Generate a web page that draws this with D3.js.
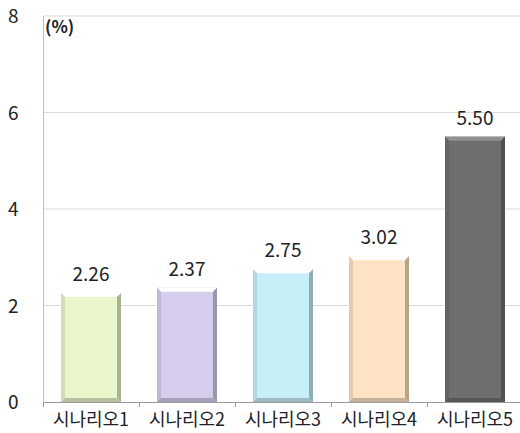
<!DOCTYPE html>
<html>
<head>
<meta charset="utf-8">
<script src="https://cdn.jsdelivr.net/npm/d3@7"></script>
<style>
  html, body { margin: 0; padding: 0; background: #fff; }
  svg { display: block; }
  text { font-family: "Noto Sans CJK KR", "Noto Sans", sans-serif; fill: #222; }
</style>
</head>
<body>
<svg id="chart" width="520" height="433"></svg>
<script>
// Scenario labels and their rates (%)
const categories = ["시나리오1", "시나리오2", "시나리오3", "시나리오4", "시나리오5"];
const values = [2.26, 2.37, 2.75, 3.02, 5.50];
const yTicks = [0, 2, 4, 6, 8];
const unitLabel = "(%)";
const barColors = ["#eaf6cb", "#d6cdec", "#c7eff8", "#fde2c3", "#6e6e6e"];

const svg = d3.select("#chart");
const x = d3.scaleBand().domain(categories).range([43, 523]).paddingInner(0.375).paddingOuter(0.1875);
const y = d3.scaleLinear().domain([0, 8]).range([402, 16]);

// Horizontal gridlines
svg.append("g").selectAll("line").data(yTicks.filter(d => d > 0)).join("line")
  .attr("x1", 43).attr("x2", 520)
  .attr("y1", d => y(d)).attr("y2", d => y(d))
  .attr("stroke", "#d9d9d9").attr("stroke-width", 1);

// Y axis line and tick labels
svg.append("line").attr("x1", 43.5).attr("x2", 43.5).attr("y1", y(8)).attr("y2", y(0))
  .attr("stroke", "#bfbfbf");
svg.append("g").selectAll("text").data(yTicks).join("text")
  .attr("x", 8).attr("y", d => y(d) + 7)
  .attr("font-size", 19)
  .text(d => d);

// X axis baseline and ticks between categories
svg.append("line").attr("x1", 43).attr("x2", 520).attr("y1", 402.5).attr("y2", 402.5)
  .attr("stroke", "#9a9a9a");
const bounds = d3.range(categories.length).map(i => 43 + i * x.step());
svg.append("g").selectAll("line").data(bounds).join("line")
  .attr("x1", d => d + 0.5).attr("x2", d => d + 0.5).attr("y1", 402).attr("y2", 407)
  .attr("stroke", "#9a9a9a");

svg.append("text").attr("x", 45).attr("y", 33).attr("font-size", 17).attr("font-weight", "bold")
  .text(unitLabel);

// Bevelled bars
const bev = 4;
const bars = svg.append("g").selectAll("g").data(values).join("g");
bars.each(function (v, i) {
  const g = d3.select(this);
  const x0 = x(categories[i]), w = x.bandwidth();
  const y0 = y(v), y1 = y(0), h = y1 - y0;
  const c = d3.color(barColors[i]);
  const pts = a => a.map(p => p.join(",")).join(" ");
  g.append("rect").attr("x", x0).attr("y", y0).attr("width", w).attr("height", h).attr("fill", c);
  // top face
  g.append("polygon").attr("points", pts([[x0, y0], [x0 + w, y0], [x0 + w - bev, y0 + bev], [x0 + bev, y0 + bev]]))
    .attr("fill", c.brighter(0.8));
  // left face
  g.append("polygon").attr("points", pts([[x0, y0], [x0 + bev, y0 + bev], [x0 + bev, y1 - bev], [x0, y1]]))
    .attr("fill", c.darker(0.3));
  // right face
  g.append("polygon").attr("points", pts([[x0 + w, y0], [x0 + w, y1], [x0 + w - bev, y1 - bev], [x0 + w - bev, y0 + bev]]))
    .attr("fill", c.darker(0.9));
  // bottom face
  g.append("polygon").attr("points", pts([[x0, y1], [x0 + bev, y1 - bev], [x0 + w - bev, y1 - bev], [x0 + w, y1]]))
    .attr("fill", c.darker(0.7));
  // value label
  g.append("text").attr("x", x0 + w / 2).attr("y", y0 - 12)
    .attr("text-anchor", "middle").attr("font-size", 19)
    .text(v.toFixed(2));
});

// Category labels
svg.append("g").selectAll("text").data(categories).join("text")
  .attr("x", d => x(d) + x.bandwidth() / 2).attr("y", 426)
  .attr("text-anchor", "middle").attr("font-size", 18)
  .text(d => d);
</script>
</body>
</html>
